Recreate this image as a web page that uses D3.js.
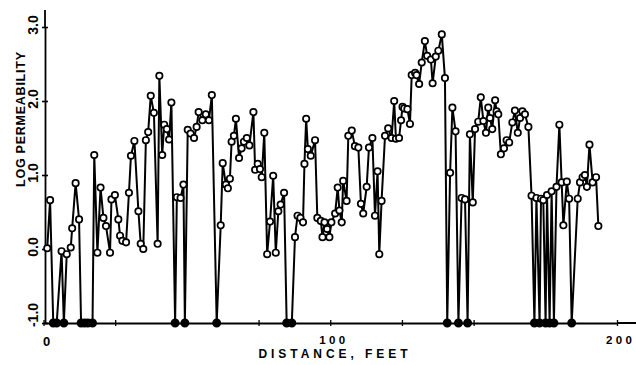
<!DOCTYPE html>
<html>
<head>
<meta charset="utf-8">
<script src="https://cdn.jsdelivr.net/npm/d3@7"></script>
<style>
  html, body { margin: 0; padding: 0; background: #fff; }
  svg { display: block; }
  text { font-family: "Liberation Sans", Arial, sans-serif; font-weight: bold; fill: #000; }
</style>
</head>
<body>
<svg id="chart" width="636" height="365"></svg>
<script>
// Distance along the traverse (feet) and log10 permeability at each sample.
// Samples below the measurable limit are recorded at -1.0 and drawn as solid dots.
const distanceFt = [
  1.3, 2.3, 3.4, 4.6, 6.3, 7.1, 8.1, 9.5, 10.0, 11.2,
  12.4, 13.1, 14.3, 15.5, 17.1, 17.7, 18.8, 19.9, 20.9, 21.8,
  23.2, 23.7, 24.9, 26.1, 26.7, 27.5, 28.8, 29.8, 30.5, 31.7,
  33.1, 33.9, 34.8, 35.7, 36.5, 37.4, 38.5, 39.8, 40.4, 41.4,
  42.1, 43.0, 43.8, 44.6, 45.9, 46.5, 47.8, 48.8, 49.3, 50.3,
  51.3, 52.5, 53.4, 54.1, 55.4, 56.6, 57.7, 58.7, 60.4, 61.8,
  62.5, 63.6, 64.3, 65.0, 65.6, 66.4, 67.1, 68.2, 69.1, 69.9,
  70.9, 71.8, 73.2, 73.8, 74.7, 75.5, 76.1, 77.0, 78.0, 79.0,
  80.1, 81.0, 81.9, 82.7, 83.9, 84.8, 86.6, 87.7, 88.6, 89.6,
  90.5, 91.0, 91.6, 92.2, 93.2, 94.7, 95.5, 96.7, 97.3, 98.0,
  98.9, 99.7, 100.4, 101.7, 102.6, 103.2, 104.0, 104.5, 105.7, 106.3,
  107.5, 108.6, 109.8, 110.7, 111.5, 112.7, 113.5, 114.7, 115.6, 116.5,
  117.1, 117.9, 119.1, 120.2, 121.4, 122.3, 122.9, 124.0, 124.7, 125.2,
  125.8, 126.9, 127.8, 128.4, 129.6, 130.1, 131.0, 131.9, 133.0, 133.8,
  135.1, 135.7, 136.8, 137.7, 138.9, 140.0, 140.8, 141.8, 142.6, 143.7,
  144.7, 145.8, 147.0, 147.9, 148.7, 149.7, 150.5, 151.6, 152.5, 153.4,
  154.3, 155.1, 155.7, 156.5, 157.5, 158.0, 158.6, 159.5, 160.6, 161.5,
  162.4, 163.5, 164.4, 165.4, 166.2, 167.0, 167.9, 169.1, 170.2, 171.2,
  171.9, 173.0, 173.5, 174.3, 175.1, 175.6, 176.5, 177.2, 178.0, 178.9,
  179.9, 180.7, 181.3, 182.5, 183.3, 184.2, 186.3, 187.1, 188.0, 188.8,
  189.5, 190.4, 191.5, 192.7, 193.5
];
const logPerm = [
  0.01, 0.66, -1, -1, -0.03, -1, -0.07, 0.02, 0.28, 0.89,
  0.40, -1, -1, -1, -1, 1.27, -0.05, 0.83, 0.42, 0.31,
  -0.05, 0.67, 0.73, 0.40, 0.18, 0.11, 0.09, 0.76, 1.26, 1.46,
  0.51, 0.07, 0.00, 1.47, 1.58, 2.07, 1.84, 0.07, 2.34, 1.27,
  1.68, 1.62, 1.48, 1.98, -1, 0.70, 0.69, 0.87, -1, 1.61,
  1.56, 1.50, 1.65, 1.85, 1.74, 1.82, 1.74, 2.08, -1, 0.32,
  1.16, 0.87, 0.82, 0.95, 1.45, 1.53, 1.76, 1.23, 1.36, 1.45,
  1.50, 1.40, 1.85, 1.07, 1.15, 1.08, 0.97, 1.57, -0.07, 0.37,
  0.99, -0.05, 0.51, 0.60, 0.76, -1, -1, 0.16, 0.45, 0.42,
  0.36, 1.15, 1.76, 1.35, 1.26, 1.47, 0.42, 0.38, 0.16, 0.36,
  0.27, 0.16, 0.36, 0.48, 0.83, 0.52, 0.36, 0.92, 0.65, 1.53,
  1.60, 1.39, 1.37, 0.61, 0.48, 0.84, 1.37, 1.50, 0.45, 1.05,
  -0.07, 0.65, 1.53, 1.63, 1.50, 2.00, 1.49, 1.50, 1.74, 1.92,
  1.90, 1.89, 1.69, 2.35, 2.38, 2.35, 2.23, 2.52, 2.81, 2.61,
  2.56, 2.24, 2.60, 2.68, 2.90, 2.31, -1, 1.03, 1.91, 1.59,
  -1, 0.69, 0.67, -1, 1.55, 0.63, 1.62, 1.72, 2.05, 1.73,
  1.57, 1.91, 1.77, 1.62, 2.01, 1.86, 1.82, 1.28, 1.36, 1.47,
  1.44, 1.71, 1.87, 1.57, 1.77, 1.86, 1.82, 1.65, 0.72, -1,
  0.69, -1, 0.68, 0.66, -1, 0.73, -1, 0.78, -1, 0.84,
  1.68, 0.90, 0.32, 0.91, 0.68, -1, 0.68, 0.90, 0.97, 1.00,
  0.84, 1.41, 0.90, 0.97, 0.31
];

const xTickValues = [0, 25, 50, 75, 100, 125, 150, 175, 200];
const xLabelValues = [0, 100, 200];
const xLabelText = ["0", "100", "200"];
const yTickValues = [-1, 0, 1, 2, 3];
const yLabelText = ["-1.0", "0.0", "1.0", "2.0", "3.0"];
const xTitle = "DISTANCE, FEET";
const yTitle = "LOG PERMEABILITY";
const floorValue = -1;

const svg = d3.select("#chart");
const W = 636;

const x = d3.scaleLinear().domain([0, 200]).range([43.5, 617]);
const y = d3.scaleLinear().domain([-1, 3]).range([323, 27]);

const data = distanceFt.map((d, i) => ({ d, v: logPerm[i] }));

// Axes with short crossing ticks
const xAxisG = svg.append("g")
  .attr("transform", `translate(0,${y(floorValue)})`)
  .call(d3.axisBottom(x).tickValues(xTickValues).tickSizeInner(3).tickSizeOuter(0).tickFormat(""));
xAxisG.selectAll(".tick line").attr("y1", -3).attr("y2", 3).attr("stroke-width", 1.3);
xAxisG.select(".domain").attr("stroke-width", 2);
xAxisG.append("line")
  .attr("x1", x(200)).attr("x2", W).attr("y1", 0).attr("y2", 0)
  .attr("stroke", "#000").attr("stroke-width", 2);

const yAxisG = svg.append("g")
  .attr("transform", `translate(${x(0) + 1.5},0)`)
  .call(d3.axisLeft(y).tickValues(yTickValues).tickSizeInner(3).tickSizeOuter(0).tickFormat(""));
yAxisG.selectAll(".tick line").attr("x1", -3).attr("x2", 3).attr("stroke-width", 1.6);
yAxisG.select(".domain").attr("stroke-width", 1.8);
yAxisG.append("line")
  .attr("x1", 0).attr("x2", 0).attr("y1", y(3) - 17).attr("y2", y(3))
  .attr("stroke", "#000").attr("stroke-width", 1.8);

// Tick labels
svg.append("g").selectAll("text")
  .data(xLabelValues)
  .join("text")
  .attr("x", (d, i) => i === 0 ? x(d) + 3 : x(d) + 2)
  .attr("y", (d, i) => i === 0 ? 346 : 344)
  .attr("text-anchor", "middle")
  .attr("font-size", (d, i) => i === 0 ? 13 : 11.5)
  .attr("textLength", (d, i) => i === 0 ? null : 26)
  .attr("lengthAdjust", "spacing")
  .text((d, i) => xLabelText[i]);

svg.append("g").selectAll("text")
  .data(yTickValues)
  .join("text")
  .attr("transform", d => `translate(38,${Math.min(y(d) - 2, y(floorValue) - 8)}) rotate(-90)`)
  .attr("text-anchor", "middle")
  .attr("font-size", 14)
  .text((d, i) => yLabelText[i]);

// Axis titles
svg.append("text")
  .attr("x", 333).attr("y", 358)
  .attr("text-anchor", "middle")
  .attr("font-size", 12)
  .attr("textLength", 149)
  .attr("lengthAdjust", "spacing")
  .text(xTitle);

svg.append("text")
  .attr("transform", "translate(25,119.5) rotate(-90)")
  .attr("text-anchor", "middle")
  .attr("font-size", 12.5)
  .attr("textLength", 135)
  .attr("lengthAdjust", "spacing")
  .text(yTitle);

// Profile line
const line = d3.line().x(p => x(p.d)).y(p => y(p.v));
svg.append("path")
  .datum(data)
  .attr("d", line)
  .attr("fill", "none")
  .attr("stroke", "#000")
  .attr("stroke-width", 2)
  .attr("stroke-linejoin", "round");

// Sample markers
svg.append("g").selectAll("circle")
  .data(data)
  .join("circle")
  .attr("cx", p => x(p.d))
  .attr("cy", p => y(p.v))
  .attr("r", p => p.v <= floorValue ? 3.6 : 3.2)
  .attr("fill", p => p.v <= floorValue ? "#000" : "#fff")
  .attr("stroke", "#000")
  .attr("stroke-width", 1.7);
</script>
</body>
</html>
